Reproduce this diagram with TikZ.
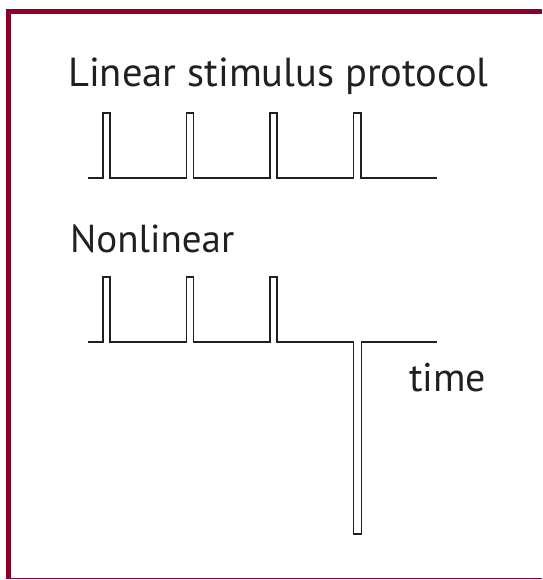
\documentclass[tikz,border=0pt]{standalone}
\usepackage{fontspec}
\setmainfont{PT Sans}
\definecolor{frame}{RGB}{139,0,38}
\definecolor{ink}{RGB}{35,31,32}
\begin{document}
\begin{tikzpicture}[x=1pt,y=-1pt,
  label/.style={anchor=base west,inner sep=0pt,text=ink,font=\fontsize{40.5}{41}\selectfont},
  trace/.style={draw=ink,line width=1.8pt,line join=miter}]
\useasboundingbox (0,0) rectangle (542,580);
\fill[white] (0,0) rectangle (542,580);
% frame
\draw[frame,line width=5pt] (8.5,579) -- (8.5,11.5) -- (542,11.5);
\draw[frame,line width=1.5pt] (6,578.7) -- (542,578.7);
% labels
\node[label] (title) at (68,87) {Linear stimulus protocol};
\node[label,font=\fontsize{39}{39}\selectfont] (nonlin) at (70,252) {Nonlinear};
\node[label,font=\fontsize{40}{40}\selectfont] (time) at (409,391) {time};
% linear protocol
\draw[trace] (88,178)
  -- (103,178) -- (103,113) -- (110,113) -- (110,178)
  -- (186.5,178) -- (186.5,113) -- (193.5,113) -- (193.5,178)
  -- (270,178) -- (270,113) -- (277,113) -- (277,178)
  -- (353.5,178) -- (353.5,113) -- (361,113) -- (361,178)
  -- (437,178);
% nonlinear protocol
\draw[trace] (88,342)
  -- (103,342) -- (103,277) -- (110,277) -- (110,342)
  -- (186.5,342) -- (186.5,277) -- (193.5,277) -- (193.5,342)
  -- (270,342) -- (270,277) -- (277,277) -- (277,342)
  -- (353.5,342) -- (353.5,534) -- (361.5,534) -- (361.5,342)
  -- (437,342);
\end{tikzpicture}
\end{document}
